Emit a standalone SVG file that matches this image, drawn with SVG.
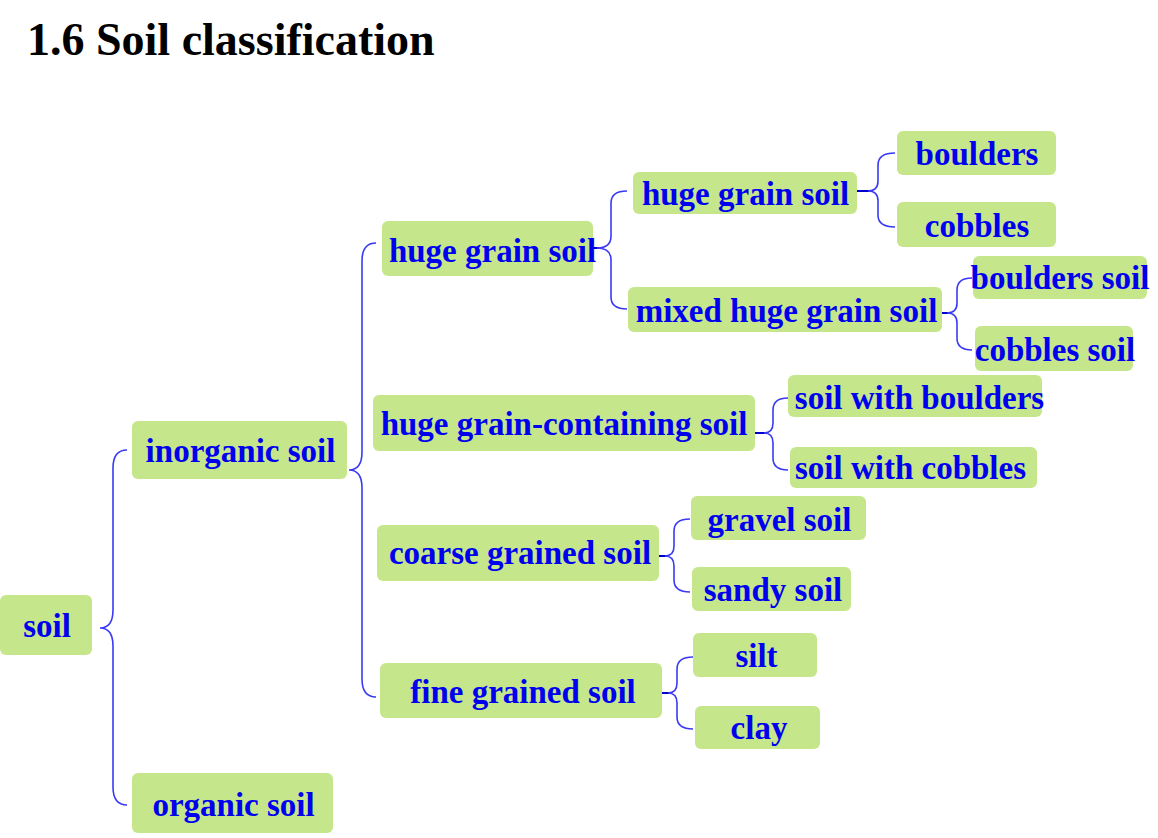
<svg xmlns="http://www.w3.org/2000/svg" width="1158" height="838" viewBox="0 0 1158 838">
<style>
.box{fill:#c5e68a;}
.t{font-family:"Liberation Serif","Times New Roman",serif;font-weight:bold;font-size:33px;fill:#0000ee;text-anchor:middle;}
.title{font-family:"Liberation Serif","Times New Roman",serif;font-weight:bold;font-size:46px;fill:#000;}
.br{fill:none;stroke:#3a3af5;stroke-width:1.6;}
.stub{fill:none;stroke:#0000cc;stroke-width:2;}
</style>
<rect width="1158" height="838" fill="#fff"/>
<text class="title" x="27" y="55">1.6 Soil classification</text>
<g id="connectors">
<path class="br" d="M127 450 Q113 450 113 468 L113 610 Q113 628 100 628 Q113 628 113 646 L113 787 Q113 805 127 805"/>
<path class="br" d="M376 243 Q362 243 362 261 L362 452 Q362 470 349 470 Q362 470 362 488 L362 679 Q362 697 376 697"/>
<path class="stub" d="M593 248 L599 248"/>
<path class="br" d="M627 191 Q611 191 611 203 L611 236 Q611 248 597 248 Q611 248 611 260 L611 297 Q611 309 627 309"/>
<path class="stub" d="M857 191 L870 191"/>
<path class="br" d="M895 153 Q878 153 878 165 L878 181 Q878 191 868 191 Q878 191 878 201 L878 215 Q878 227 895 227"/>
<path class="stub" d="M942 313 L950 313"/>
<path class="br" d="M972 278 Q957 278 957 290 L957 303 Q957 313 947 313 Q957 313 957 323 L957 338 Q957 350 972 350"/>
<path class="stub" d="M755 433 L766 433"/>
<path class="br" d="M788 398 Q773 398 773 410 L773 423 Q773 433 764 433 Q773 433 773 443 L773 458 Q773 470 788 470"/>
<path class="stub" d="M659 556 L667 556"/>
<path class="br" d="M690 519 Q674 519 674 531 L674 546 Q674 556 665 556 Q674 556 674 566 L674 580 Q674 592 690 592"/>
<path class="stub" d="M657 693 L671 693"/>
<path class="br" d="M693 657 Q677 657 677 669 L677 683 Q677 693 668 693 Q677 693 677 703 L677 717 Q677 729 693 729"/>
</g>
<g id="n-soil"><rect class="box" x="0" y="595" width="92" height="60" rx="6"/><text class="t" x="47" y="637">soil</text></g>
<g id="n-inorganic"><rect class="box" x="132" y="421" width="215" height="58" rx="6"/><text class="t" x="240.5" y="462">inorganic soil</text></g>
<g id="n-organic"><rect class="box" x="132" y="773" width="201" height="60" rx="6"/><text class="t" x="233.5" y="816">organic soil</text></g>
<g id="n-huge2"><rect class="box" x="382" y="221" width="211" height="55" rx="6"/><text class="t" x="492.5" y="262">huge grain soil</text></g>
<g id="n-hgcs"><rect class="box" x="373" y="395" width="382" height="56" rx="6"/><text class="t" x="564" y="435">huge grain-containing soil</text></g>
<g id="n-coarse"><rect class="box" x="377" y="525" width="282" height="56" rx="6"/><text class="t" x="520" y="564">coarse grained soil</text></g>
<g id="n-fine"><rect class="box" x="380" y="663" width="282" height="55" rx="6"/><text class="t" x="523" y="703">fine grained soil</text></g>
<g id="n-huge3"><rect class="box" x="633" y="172" width="224" height="42" rx="6"/><text class="t" x="745.5" y="205">huge grain soil</text></g>
<g id="n-mixed"><rect class="box" x="628" y="287" width="314" height="45" rx="6"/><text class="t" x="786.5" y="322">mixed huge grain soil</text></g>
<g id="n-boulders"><rect class="box" x="897" y="131" width="159" height="44" rx="6"/><text class="t" x="977" y="165">boulders</text></g>
<g id="n-cobbles"><rect class="box" x="897" y="202" width="159" height="45" rx="6"/><text class="t" x="977" y="237">cobbles</text></g>
<g id="n-boulders-soil"><rect class="box" x="973" y="256" width="174" height="43" rx="6"/><text class="t" x="1060" y="289">boulders soil</text></g>
<g id="n-cobbles-soil"><rect class="box" x="975" y="326" width="158" height="45" rx="6"/><text class="t" x="1055" y="361">cobbles soil</text></g>
<g id="n-soil-boulders"><rect class="box" x="788" y="375" width="254" height="42" rx="6"/><text class="t" x="919.5" y="409">soil with boulders</text></g>
<g id="n-soil-cobbles"><rect class="box" x="790" y="447" width="247" height="41" rx="6"/><text class="t" x="910.5" y="479">soil with cobbles</text></g>
<g id="n-gravel"><rect class="box" x="691" y="496" width="175" height="44" rx="6"/><text class="t" x="779.5" y="531">gravel soil</text></g>
<g id="n-sandy"><rect class="box" x="692" y="567" width="159" height="44" rx="6"/><text class="t" x="773" y="601">sandy soil</text></g>
<g id="n-silt"><rect class="box" x="693" y="633" width="124" height="44" rx="6"/><text class="t" x="756.5" y="667">silt</text></g>
<g id="n-clay"><rect class="box" x="695" y="706" width="125" height="43" rx="6"/><text class="t" x="759" y="739">clay</text></g>
</svg>
